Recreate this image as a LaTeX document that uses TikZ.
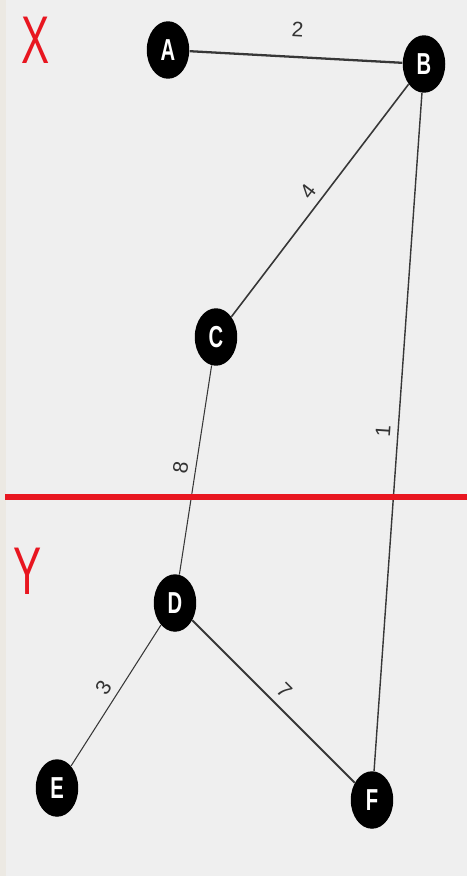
\documentclass[tikz,border=0pt]{standalone}
\usepackage{fontspec}
\setsansfont{Liberation Sans}
\usepackage{xcolor}
\usetikzlibrary{shapes.geometric}
\definecolor{myRed}{RGB}{232, 22, 32}
\definecolor{myBack}{RGB}{239, 239, 239}
\definecolor{myStrip}{RGB}{236, 233, 227}
\definecolor{myEdge}{RGB}{55, 55, 55}
\newcommand{\tallTxt}[2][1.5]{\scalebox{1}[#1]{#2}}

\begin{document}
\begin{tikzpicture}[
    x=0.02cm,
    y=-0.02cm,
    vertex/.style={
        ellipse,
        fill=black,
        text=white,
        inner sep=0pt,
        minimum width=0.85cm,
        minimum height=1.15cm,
        font=\sffamily\bfseries\fontsize{11.5}{11.5}\selectfont
    },
    wt/.style={sloped, above=2pt, inner sep=2pt,
        font=\sffamily\fontsize{12}{12}\selectfont, text=black!80},
    edge/.style={draw=myEdge, line width=0.6pt},
    heavy/.style={edge, line width=1.3pt},
    side/.style={text=myRed, inner sep=0pt,
        font=\sffamily\fontsize{24}{24}\selectfont}
]
  % background and margins
  \fill[myBack] (0,0) rectangle (467,876);
  \fill[myStrip] (0,0) rectangle (6,876);
  \useasboundingbox (0,0) rectangle (467,876);

  \node[side] (X) at (36,40) {\tallTxt[1.6]{X}};
  \node[side] (Y) at (28,571) {\tallTxt[1.6]{Y}};

  \node[vertex] (A) at (168,50) {\tallTxt{A}};
  \node[vertex] (B) at (424,64) {\tallTxt{B}};
  \node[vertex] (C) at (216,337) {\tallTxt{C}};
  \node[vertex] (D) at (175,603) {\tallTxt{D}};
  \node[vertex] (E) at (57,788) {\tallTxt{E}};
  \node[vertex] (F) at (372,800) {\tallTxt{F}};

  \draw[heavy] (A) -- node[wt, above=7pt] {2} (B);
  \draw[edge, line width=0.9pt] (B) -- node[wt] {4} (C);
  \draw[edge, line width=0.8pt] (B) -- node[wt] {1} (F);
  \draw[edge] (C) -- node[wt] {8} (D);
  \draw[edge] (D) -- node[wt] {3} (E);
  \draw[heavy, line width=1.1pt] (D) -- node[wt] {7} (F);

  % cut line
  \coordinate (cutL) at (5,497);
  \coordinate (cutR) at (467,497);
  \draw[myRed, line width=3.4pt] (cutL) -- (cutR);
\end{tikzpicture}
\end{document}
